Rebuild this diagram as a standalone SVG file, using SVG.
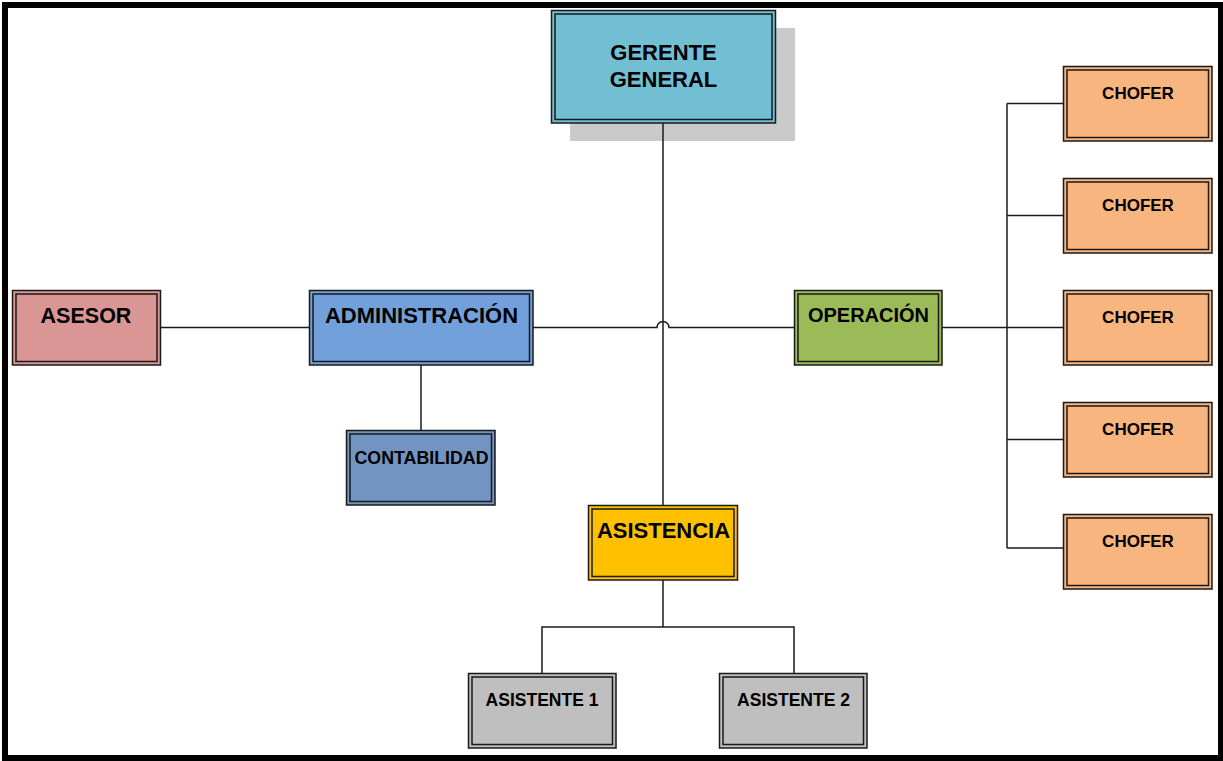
<svg xmlns="http://www.w3.org/2000/svg" width="1223" height="761" viewBox="0 0 1223 761">
<style>
.o{stroke:#1a1a1a;stroke-width:1.5}
.i{fill:none;stroke:#1a1a1a;stroke-width:1.5}
.t{font-family:"Liberation Sans",Arial,sans-serif;font-weight:bold;fill:#000;text-anchor:middle}
.c{fill:none;stroke:#1a1a1a;stroke-width:1.5}
</style>
<rect x="0" y="0" width="1223" height="761" fill="#fff"/>
<rect x="5" y="5" width="1216" height="753" fill="none" stroke="#000" stroke-width="6"/>
<g id="gerente-shadow">
<rect x="570" y="28" width="225" height="113" fill="#cacaca"/>
</g>
<g id="connectors">
<path class="c" d="M663,123 V505"/>
<path class="c" d="M161,327.5 H309"/>
<path class="c" d="M533,327.5 H657 A6,6 0 0 1 669,327.5 H794"/>
<path class="c" d="M421,365 V430"/>
<path class="c" d="M942,327.5 H1063"/>
<path class="c" d="M1007,103.5 V548"/>
<path class="c" d="M1007,103.5 H1063 M1007,215.5 H1063 M1007,439.5 H1063 M1007,548 H1063"/>
<path class="c" d="M663,580 V627 M542,673 V627 H794 V673"/>
</g>
<g id="gerente">
<rect class="o" x="551.5" y="10.5" width="224" height="112.5" fill="#72bfd3"/>
<rect class="i" x="555" y="14" width="217" height="105.5"/>
<text class="t" x="663.5" y="60" font-size="22">GERENTE</text>
<text class="t" x="663.5" y="87" font-size="22">GENERAL</text>
</g>
<g id="asesor">
<rect class="o" x="12.5" y="290.5" width="148" height="74.5" fill="#da9694"/>
<rect class="i" x="16" y="294" width="141" height="67.5"/>
<text class="t" x="86" y="323" font-size="21.5">ASESOR</text>
</g>
<g id="administracion">
<rect class="o" x="309.5" y="290.5" width="223.5" height="74.5" fill="#72a0db"/>
<rect class="i" x="313" y="294" width="216.5" height="67.5"/>
<text class="t" x="421.5" y="323" font-size="22">ADMINISTRACIÓN</text>
</g>
<g id="operacion">
<rect class="o" x="794.5" y="290.5" width="147.5" height="74.5" fill="#9bbb59"/>
<rect class="i" x="798" y="294" width="140.5" height="67.5"/>
<text class="t" x="868.5" y="322" font-size="20">OPERACIÓN</text>
</g>
<g id="chofer1">
<rect class="o" x="1063.5" y="66.5" width="148.5" height="74.5" fill="#f8b580"/>
<rect class="i" x="1067" y="70" width="141.5" height="67.5"/>
<text class="t" x="1138" y="99" font-size="17">CHOFER</text>
</g>
<g id="chofer2">
<rect class="o" x="1063.5" y="178.5" width="148.5" height="74.5" fill="#f8b580"/>
<rect class="i" x="1067" y="182" width="141.5" height="67.5"/>
<text class="t" x="1138" y="211" font-size="17">CHOFER</text>
</g>
<g id="chofer3">
<rect class="o" x="1063.5" y="290.5" width="148.5" height="74.5" fill="#f8b580"/>
<rect class="i" x="1067" y="294" width="141.5" height="67.5"/>
<text class="t" x="1138" y="323" font-size="17">CHOFER</text>
</g>
<g id="chofer4">
<rect class="o" x="1063.5" y="402.5" width="148.5" height="74.5" fill="#f8b580"/>
<rect class="i" x="1067" y="406" width="141.5" height="67.5"/>
<text class="t" x="1138" y="435" font-size="17">CHOFER</text>
</g>
<g id="chofer5">
<rect class="o" x="1063.5" y="514.5" width="148.5" height="74.5" fill="#f8b580"/>
<rect class="i" x="1067" y="518" width="141.5" height="67.5"/>
<text class="t" x="1138" y="547" font-size="17">CHOFER</text>
</g>
<g id="contabilidad">
<rect class="o" x="346.5" y="430.5" width="148.5" height="74.5" fill="#7394c1"/>
<rect class="i" x="350" y="434" width="141.5" height="67.5"/>
<text class="t" x="421.5" y="463.5" font-size="17.8">CONTABILIDAD</text>
</g>
<g id="asistencia">
<rect class="o" x="588.5" y="505.5" width="149" height="74.5" fill="#ffc000"/>
<rect class="i" x="592" y="509" width="142" height="67.5"/>
<text class="t" x="663.5" y="538" font-size="22">ASISTENCIA</text>
</g>
<g id="asistente1">
<rect class="o" x="468.5" y="673.5" width="147.5" height="74.5" fill="#bfbfbf"/>
<rect class="i" x="472" y="677" width="140.5" height="67.5"/>
<text class="t" x="542" y="706" font-size="17.5">ASISTENTE 1</text>
</g>
<g id="asistente2">
<rect class="o" x="719.5" y="673.5" width="147.5" height="74.5" fill="#bfbfbf"/>
<rect class="i" x="723" y="677" width="140.5" height="67.5"/>
<text class="t" x="793.5" y="706" font-size="17.5">ASISTENTE 2</text>
</g>
</svg>
